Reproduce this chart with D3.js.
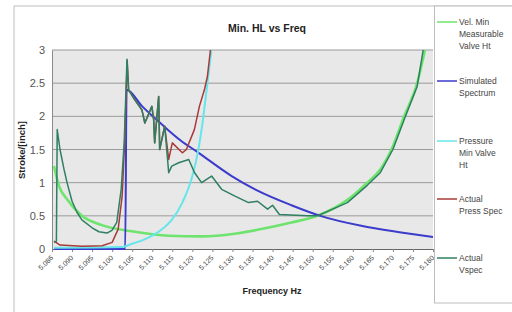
<!DOCTYPE html>
<html>
<head>
<meta charset="utf-8">
<script src="https://cdn.jsdelivr.net/npm/d3@7"></script>
<style>
  body { margin: 0; background: #fff; }
  svg { display: block; font-family: "Liberation Sans", Arial, sans-serif; }
</style>
</head>
<body>
<div id="chart"></div>
<script>
// category labels along the x axis
const freqLabels = ["5.086", "5.090", "5.095", "5.100", "5.105", "5.110", "5.115", "5.120", "5.125", "5.130",
                    "5.135", "5.140", "5.145", "5.150", "5.155", "5.160", "5.165", "5.170", "5.175", "5.180"];
const yTicks = [0, 0.5, 1, 1.5, 2, 2.5, 3];

// series, [category position, value]
const velMin = [[0.1,1.25],[0.35,0.95],[0.75,0.75],[1.49,0.5],[2.49,0.36],[4.13,0.26],[5.82,0.2],[7.46,0.19],
                [9.1,0.23],[10.25,0.29],[11.94,0.4],[13.23,0.5],[14.73,0.74],[15.72,1.0],[16.37,1.2],
                [17.0,1.55],[17.56,2.0],[18.21,2.5],[18.6,3.0]];
const simSpec = [[0.1,0.0],[3.65,0.0],[3.72,2.4],[4.5,2.15],[5.47,1.88],[6.4,1.64],[7.31,1.45],[8.96,1.1],
                 [10.25,0.88],[11.94,0.66],[13.38,0.5],[15.42,0.35],[17.41,0.25],[19,0.18]];
const pressMin = [[0.1,0.02],[3.5,0.03],[4.0,0.08],[4.5,0.13],[5.0,0.2],[5.5,0.3],[6.0,0.45],[6.5,0.7],
                  [7.0,1.1],[7.3,1.5],[7.55,2.0],[7.75,2.5],[7.95,3.0]];
const actPress = [[0.1,0.12],[0.4,0.06],[1.5,0.04],[2.5,0.05],[3.0,0.1],[3.3,0.3],[3.5,0.8],[3.62,1.6],
                  [3.75,2.84],[3.82,2.4],[4.13,2.25],[4.48,2.1],[4.63,1.9],[4.98,2.15],[5.07,1.95],[5.12,1.6],
                  [5.32,2.3],[5.37,1.5],[5.62,1.85],[5.82,1.35],[6.0,1.6],[6.5,1.45],[6.7,1.5],[7.1,1.8],
                  [7.35,2.15],[7.6,2.4],[7.75,2.6],[7.9,3.0]];
const actV = [[0.1,0.1],[0.22,0.12],[0.26,1.8],[0.4,1.5],[0.6,1.2],[0.75,1.0],[1.0,0.72],[1.25,0.55],[1.49,0.44],
              [2.0,0.32],[2.34,0.26],[2.74,0.24],[2.99,0.28],[3.23,0.4],[3.45,0.9],[3.6,1.6],[3.74,2.86],
              [3.82,2.4],[4.13,2.25],[4.48,2.1],[4.63,1.9],[4.98,2.15],[5.07,1.95],[5.12,1.6],[5.32,2.3],
              [5.37,1.5],[5.62,1.85],[5.82,1.15],[5.97,1.25],[6.32,1.3],[6.82,1.35],[7.11,1.15],[7.46,1.0],
              [7.96,1.1],[8.46,0.9],[9.1,0.8],[9.8,0.7],[10.25,0.72],[10.75,0.6],[11.0,0.66],[11.34,0.52],
              [12.74,0.5],[13.23,0.5],[14.73,0.7],[15.72,0.96],[16.37,1.15],[17.0,1.5],[17.56,1.95],
              [18.21,2.45],[18.51,3.0]];

const series = [
  { name: ["Vel. Min", "Measurable", "Valve Ht"], data: velMin, color: "#6ee46e", width: 2.6, smooth: true },
  { name: ["Simulated", "Spectrum"], data: simSpec, color: "#3b3bcc", width: 2, smooth: true },
  { name: ["Pressure", "Min Valve", "Ht"], data: pressMin, color: "#66e6ea", width: 2, smooth: true },
  { name: ["Actual", "Press Spec"], data: actPress, color: "#a83a3a", width: 1.5, smooth: false },
  { name: ["Actual", "Vspec"], data: actV, color: "#2f7f62", width: 1.5, smooth: false }
];

const W = 512, H = 312;
const plot = { left: 52, right: 433, top: 50, bottom: 249 };

const svg = d3.select("#chart").append("svg").attr("width", W).attr("height", H);

// outer chart border
svg.append("path").attr("d", `M14,${H} V6 H${W}`).attr("fill", "none").attr("stroke", "#bdbdbd");

const x = d3.scaleLinear().domain([0, 19]).range([plot.left, plot.right]);
const y = d3.scaleLinear().domain([0, 3]).range([plot.bottom, plot.top]);

svg.append("rect")
  .attr("x", plot.left).attr("y", plot.top)
  .attr("width", plot.right - plot.left).attr("height", plot.bottom - plot.top)
  .attr("fill", "#e8e8e8");

// gridlines
svg.append("g").selectAll("line").data(yTicks.slice(1)).join("line")
  .attr("x1", plot.left).attr("x2", plot.right)
  .attr("y1", d => y(d)).attr("y2", d => y(d))
  .attr("stroke", "#9a9a9a").attr("stroke-width", 1);

// y axis
const yAxis = svg.append("g").attr("transform", `translate(${plot.left},0)`)
  .call(d3.axisLeft(y).tickValues(yTicks).tickSize(0).tickPadding(7).tickFormat(d3.format("~g")));
yAxis.select(".domain").attr("stroke", "#8a8a8a");
yAxis.selectAll("text").attr("font-size", 11).attr("fill", "#555");

// x axis
const xAxis = svg.append("g").attr("transform", `translate(0,${plot.bottom})`)
  .call(d3.axisBottom(x).tickValues(d3.range(freqLabels.length)).tickSize(3).tickFormat(i => freqLabels[i]));
xAxis.select(".domain").attr("stroke", "#666");
xAxis.selectAll(".tick line").attr("stroke", "#888");
xAxis.selectAll("text")
  .attr("font-size", 7).attr("fill", "#444")
  .attr("text-anchor", "end")
  .attr("transform", "translate(-6,2) rotate(-45)")
  .attr("dy", "0.6em");

// lines
const smoothLine = d3.line().x(d => x(d[0])).y(d => y(d[1])).curve(d3.curveMonotoneX);
const rawLine = d3.line().x(d => x(d[0])).y(d => y(d[1]));
svg.append("g").selectAll("path").data(series).join("path")
  .attr("d", d => (d.smooth ? smoothLine : rawLine)(d.data))
  .attr("fill", "none")
  .attr("stroke", d => d.color)
  .attr("stroke-width", d => d.width)
  .attr("stroke-linejoin", "round");

// titles
svg.append("text").attr("x", 267).attr("y", 32).attr("text-anchor", "middle")
  .attr("font-size", 10.5).attr("font-weight", "bold").attr("fill", "#222").text("Min. HL vs Freq");
svg.append("text").attr("x", 272).attr("y", 294).attr("text-anchor", "middle")
  .attr("font-size", 9).attr("font-weight", "bold").attr("fill", "#222").text("Frequency Hz");
svg.append("text").attr("transform", "translate(25,150) rotate(-90)").attr("text-anchor", "middle")
  .attr("font-size", 9.5).attr("font-weight", "bold").attr("fill", "#222").text("Stroke/[inch]");

// legend
svg.append("rect").attr("x", 434.5).attr("y", 6).attr("width", 80).attr("height", 297)
  .attr("fill", "#fff").attr("stroke", "#bdbdbd");
const legendY = [22, 81, 141, 199, 258];
const lg = svg.append("g").selectAll("g").data(series).join("g")
  .attr("transform", (d, i) => `translate(437,${legendY[i]})`);
lg.append("line").attr("x1", 0).attr("x2", 20).attr("stroke", d => d.color).attr("stroke-width", 1.5);
lg.append("text").attr("x", 22).attr("y", 3).attr("font-size", 8.5).attr("fill", "#444")
  .selectAll("tspan").data(d => d.name).join("tspan")
  .attr("x", 22).attr("dy", (d, i) => i === 0 ? 0 : 12).text(d => d);
</script>
</body>
</html>
